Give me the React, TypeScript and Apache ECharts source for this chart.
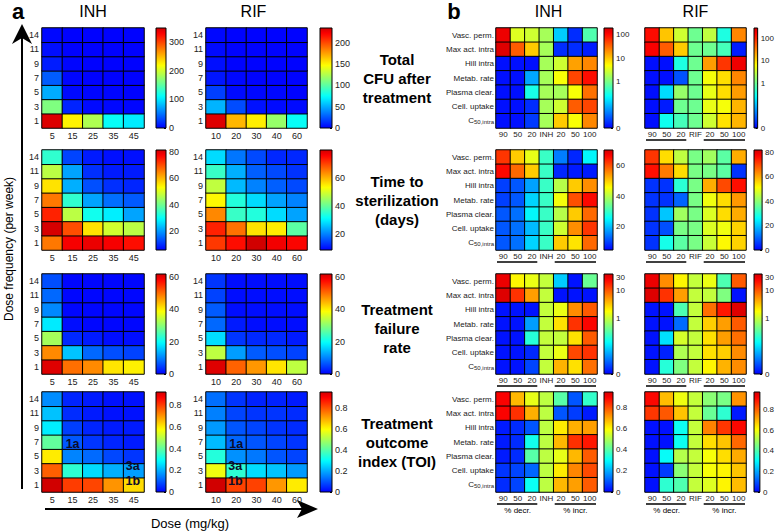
import React, { useEffect, useRef } from 'react';
import * as echarts from 'echarts';

// ---------------- data ----------------
const freqs = ['1', '3', '5', '7', '9', '11', '14'];
const inhDoses = ['5', '15', '25', '35', '45'];
const rifDoses = ['10', '20', '30', '40', '60'];
const params = ['Vasc. perm.', 'Max act. intra', 'Hill intra', 'Metab. rate', 'Plasma clear.', 'Cell. uptake', 'C50,intra'];
const inhChanges = ['90', '50', '20', 'INH', '20', '50', '100'];
const rifChanges = ['90', '50', '20', 'RIF', '20', '50', '100'];
const rowTitles = ['Total\nCFU after\ntreatment', 'Time to\nsterilization\n(days)', 'Treatment\nfailure\nrate', 'Treatment\noutcome\nindex (TOI)'];

// panel a: rows = dose frequency 1,3,5,7,9,11,14 ; columns = doses
const inhCFU = [
  [345, 225, 185, 112, 102],
  [165, 15, 4, 3, 2],
  [75, 4, 2, 2, 1],
  [40, 2, 1, 1, 1],
  [12, 2, 1, 1, 1],
  [6, 1, 1, 1, 1],
  [3, 1, 1, 1, 1],
];
const rifCFU = [
  [230, 168, 152, 117, 75],
  [52, 22, 5, 3, 3],
  [18, 3, 2, 2, 1],
  [6, 2, 1, 1, 1],
  [4, 1, 1, 1, 1],
  [3, 1, 1, 1, 1],
  [2, 1, 1, 1, 1],
];
const inhTime = [
  [66, 78, 79, 78, 76],
  [81, 70, 56, 49, 47],
  [74, 47, 31, 28, 21],
  [66, 34, 21, 16, 14],
  [56, 22, 13, 10, 9],
  [47, 21, 10, 8, 8],
  [34, 12, 8, 7, 7],
];
const rifTime = [
  [71, 75, 80, 77, 76],
  [73, 66, 56, 55, 39],
  [64, 36, 34, 28, 23],
  [54, 34, 28, 23, 20],
  [48, 25, 20, 17, 15],
  [36, 24, 17, 15, 13],
  [28, 19, 15, 12, 12],
];
const inhFail = [
  [61, 50, 48, 41, 40],
  [48, 15, 8, 6, 5],
  [32, 3, 2, 1, 1],
  [18, 1, 0.5, 0.5, 0.5],
  [10.5, 0.5, 0.5, 0.5, 0.5],
  [8, 0.5, 0.5, 0.5, 0.5],
  [6, 0.5, 0.5, 0.5, 0.5],
];
const rifFail = [
  [61, 51, 47, 41, 34],
  [34, 12, 7, 6, 5],
  [17, 4, 3, 3, 2],
  [8, 2, 1, 1, 1],
  [7, 1, 1, 1, 1],
  [5, 1, 1, 1, 1],
  [4, 1, 1, 1, 1],
];
const inhTOI = [
  [0.92, 0.8, 0.79, 0.7, 0.62],
  [0.76, 0.34, 0.25, 0.2, 0.18],
  [0.6, 0.15, 0.12, 0.08, 0.06],
  [0.4, 0.1, 0.06, 0.04, 0.03],
  [0.27, 0.07, 0.04, 0.03, 0.03],
  [0.22, 0.05, 0.03, 0.02, 0.02],
  [0.16, 0.04, 0.03, 0.02, 0.02],
];
const rifTOI = [
  [0.95, 0.82, 0.82, 0.72, 0.62],
  [0.58, 0.35, 0.26, 0.23, 0.18],
  [0.34, 0.17, 0.14, 0.1, 0.08],
  [0.22, 0.12, 0.1, 0.08, 0.06],
  [0.18, 0.1, 0.08, 0.06, 0.05],
  [0.15, 0.08, 0.06, 0.06, 0.05],
  [0.13, 0.06, 0.04, 0.04, 0.03],
];

// panel b: rows = params (top to bottom), columns = % changes
const inhCfuSens = [
  [140, 3.4, 2.8, 1.7, 0.12, 0.017, 0.6],
  [170, 37, 9.5, 1.7, 0.017, 0.017, 0.014],
  [0.012, 0.012, 0.012, 1.7, 2.8, 16, 22],
  [0.012, 0.012, 0.077, 1.7, 4.7, 49, 100],
  [0.012, 0.012, 0.3, 1.7, 1.7, 4.7, 29],
  [0.012, 0.012, 0.017, 1.7, 2.8, 37, 49],
  [0.012, 0.012, 0.02, 1.7, 9.5, 4.7, 22],
];
const rifCfuSens = [
  [140, 13, 3.4, 1, 2.8, 0.36, 29],
  [170, 49, 12, 1, 1, 0.6, 0.014],
  [0.012, 0.012, 0.36, 1, 22, 80, 190],
  [0.012, 0.012, 0.028, 1, 5.6, 9.5, 29],
  [0.012, 0.16, 1.7, 1, 4.7, 9.5, 22],
  [0.012, 0.014, 1, 1, 4.7, 5.6, 16],
  [0.012, 0.3, 0.6, 1, 3.4, 9, 16],
];
const inhTimeSens = [
  [62, 50, 44, 30, 15, 8, 25],
  [66, 58, 50, 30, 8, 7, 7],
  [10, 12, 18, 30, 40, 50, 55],
  [10, 12, 22, 30, 45, 60, 66],
  [12, 14, 25, 30, 40, 50, 58],
  [12, 14, 20, 30, 42, 55, 62],
  [12, 14, 22, 30, 50, 48, 58],
];
const rifTimeSens = [
  [72, 55, 45, 38, 42, 35, 60],
  [76, 65, 55, 38, 38, 35, 5],
  [5, 5, 30, 38, 60, 70, 76],
  [5, 5, 10, 38, 50, 55, 62],
  [5, 20, 42, 38, 48, 55, 60],
  [5, 8, 38, 38, 48, 50, 56],
  [5, 28, 35, 38, 46, 52, 56],
];
const inhFailSens = [
  [30, 2, 1.5, 1, 0.08, 0.012, 0.4],
  [35, 15, 5, 1, 0.012, 0.012, 0.012],
  [0.012, 0.012, 0.012, 1, 1.5, 6, 10],
  [0.012, 0.012, 0.05, 1, 2.5, 15, 25],
  [0.012, 0.012, 0.2, 1, 1, 2.5, 10],
  [0.012, 0.012, 0.015, 1, 1.5, 12, 15],
  [0.012, 0.012, 0.02, 1, 4, 2.5, 8],
];
const rifFailSens = [
  [30, 6, 2, 1, 1.5, 0.3, 10],
  [35, 15, 5, 1, 1, 0.5, 0.012],
  [0.012, 0.012, 0.3, 1, 8, 20, 35],
  [0.012, 0.012, 0.03, 1, 3, 5, 10],
  [0.012, 0.1, 1.2, 1, 2.5, 5, 8],
  [0.012, 0.014, 0.8, 1, 2.5, 3, 6],
  [0.012, 0.2, 0.5, 1, 2, 4, 6],
];
const inhToiSens = [
  [0.9, 0.68, 0.57, 0.52, 0.4, 0.1, 0.36],
  [0.9, 0.84, 0.69, 0.52, 0.1, 0.07, 0.03],
  [0.03, 0.05, 0.1, 0.52, 0.62, 0.69, 0.71],
  [0.03, 0.05, 0.32, 0.52, 0.68, 0.84, 0.87],
  [0.03, 0.05, 0.4, 0.52, 0.57, 0.68, 0.79],
  [0.06, 0.08, 0.12, 0.52, 0.62, 0.74, 0.81],
  [0.05, 0.08, 0.31, 0.52, 0.68, 0.71, 0.79],
];
const rifToiSens = [
  [0.91, 0.69, 0.59, 0.54, 0.47, 0.45, 0.74],
  [0.85, 0.81, 0.68, 0.54, 0.43, 0.36, 0.03],
  [0.02, 0.02, 0.32, 0.54, 0.76, 0.85, 0.91],
  [0.02, 0.02, 0.32, 0.54, 0.65, 0.68, 0.79],
  [0.02, 0.31, 0.52, 0.54, 0.6, 0.65, 0.71],
  [0.02, 0.07, 0.47, 0.54, 0.6, 0.62, 0.68],
  [0.02, 0.36, 0.4, 0.54, 0.57, 0.62, 0.69],
];

// colour-bar ranges and ticks
const aInhRanges = [[0, 350], [5.6, 81.5], [0, 62], [0, 0.92]];
const aInhTicks = [[0, 100, 200, 300], [20, 40, 60, 80], [0, 20, 40, 60], [0, 0.2, 0.4, 0.6, 0.8]];
const aRifRanges = [[0, 234], [8.6, 80], [0, 62], [0, 0.95]];
const aRifTicks = [[0, 50, 100, 150, 200], [20, 40, 60], [0, 20, 40, 60], [0, 0.2, 0.4, 0.6, 0.8]];
const bInhRanges = [[0.01, 200], [5, 70], [0.01, 40], [0, 0.95]];
const bInhTicks = [[0.01, 1, 10, 100], [20, 40, 60], [0.01, 1, 10, 30], [0, 0.2, 0.4, 0.6, 0.8]];
const bRifRanges = [[0.01, 280], [0, 82], [0.01, 40], [0, 0.97]];
const bRifTicks = [[0.01, 1, 10, 100], [0, 20, 40, 60, 80], [0.01, 1, 10, 30], [0, 0.2, 0.4, 0.6, 0.8]];
const bLogRows = [true, false, true, false];

const toiLabels = [
  { drug: 'INH', text: '1a', dose: '15', freq: '7' },
  { drug: 'INH', text: '3a', dose: '45', freq: '3' },
  { drug: 'INH', text: '1b', dose: '45', freq: '1' },
  { drug: 'RIF', text: '1a', dose: '20', freq: '7' },
  { drug: 'RIF', text: '3a', dose: '20', freq: '3' },
  { drug: 'RIF', text: '1b', dose: '20', freq: '1' },
];

// ---------------- layout / style ----------------
const FONT = '"Liberation Sans", Arial, Helvetica, sans-serif';
const ROW_TOPS = [28, 150, 274, 392];
const ROW_H = 100;
const A_INH = { left: 42, width: 102, cbLeft: 156, cbWidth: 10 };
const A_RIF = { left: 206, width: 101, cbLeft: 320, cbWidth: 12 };
const B_INH = { left: 496, width: 101, cbLeft: 604, cbWidth: 9 };
const B_RIF = { left: 645, width: 101, cbLeft: 754, cbWidth: 10 };
const LABEL_OFFSETS: Record<string, number[]> = { '1a': [0, 2], '3a': [-1, -5], '1b': [-1, -4] };

function jet(t: number) {
  const s = 0.125 + Math.max(0, Math.min(1, t)) * 0.795;
  const c = (k: number) => Math.round(255 * Math.max(0, Math.min(1, 1.5 - Math.abs(4 * s - k))));
  return `rgb(${c(3)},${c(2)},${c(1)})`;
}
const JET = Array.from({ length: 41 }, (_, i) => jet(i / 40));

function fmtNum(v: number) {
  const r = Math.round(v * 1000) / 1000;
  return String(r);
}

function buildOption() {
  const option: any = {
    animation: false,
    backgroundColor: '#fff',
    grid: [], xAxis: [], yAxis: [], series: [], visualMap: [], graphic: [],
  };

  function addPanel(spec: any) {
    const gi = option.grid.length;
    const log = !!spec.log;
    const tr = (v: number) => (log ? Math.log10(v) : v);
    const min = tr(spec.range[0]);
    const max = tr(spec.range[1]);
    option.grid.push({ left: spec.left, top: spec.top, width: spec.width, height: ROW_H });
    option.xAxis.push({
      type: 'category', gridIndex: gi, data: spec.xCats,
      axisLine: { show: false }, axisTick: { show: false }, splitLine: { show: false },
      axisLabel: { interval: 0, fontSize: spec.font, fontFamily: FONT, color: '#222', margin: spec.xMargin },
    });
    option.yAxis.push({
      type: 'category', gridIndex: gi, data: spec.yCats, inverse: !!spec.inverse,
      axisLine: { show: false }, axisTick: { show: false }, splitLine: { show: false },
      axisLabel: {
        show: spec.showY, interval: 0, fontSize: spec.font, fontFamily: FONT, color: '#222', margin: spec.yMargin,
        formatter: (v: string) => (v === 'C50,intra' ? '{c|C}{s|50,intra}' : v),
        rich: {
          c: { fontSize: 8, fontFamily: FONT, color: '#222', lineHeight: 8, verticalAlign: 'top' },
          s: { fontSize: 6, fontFamily: FONT, color: '#222', lineHeight: 6, padding: [5, 0, 0, 0], verticalAlign: 'bottom' },
        },
      },
    });
    const data: any[] = [];
    spec.values.forEach((row: number[], yi: number) => row.forEach((v: number, xi: number) => data.push([xi, yi, tr(v)])));
    const si = option.series.length;
    option.series.push({
      type: 'heatmap', xAxisIndex: gi, yAxisIndex: gi, data, silent: true,
      itemStyle: { borderColor: '#000', borderWidth: 1 }, emphasis: { disabled: true },
    });
    option.visualMap.push({ type: 'continuous', show: false, seriesIndex: si, dimension: 2, min, max, inRange: { color: JET } });

    if (spec.labels) {
      option.series.push({
        type: 'scatter', xAxisIndex: gi, yAxisIndex: gi, symbol: 'circle', symbolSize: 1,
        itemStyle: { color: 'rgba(0,0,0,0)' }, silent: true, z: 5,
        data: spec.labels.map((l: any) => ({ name: l.text, value: [l.dose, l.freq], label: { offset: LABEL_OFFSETS[l.text] } })),
        label: {
          show: true, position: 'inside', formatter: (p: any) => p.name, fontSize: 12.5, lineHeight: 9,
          fontWeight: 'bold', fontFamily: FONT, color: '#0d0d2a', opacity: 1,
        },
      });
    }

    // colour bar
    const ci = option.grid.length;
    const ticks = spec.ticks.map(tr);
    option.grid.push({ left: spec.cbLeft, top: spec.top, width: spec.cbWidth, height: ROW_H });
    option.xAxis.push({ type: 'category', gridIndex: ci, data: ['c'], show: false });
    option.yAxis.push({
      type: 'value', gridIndex: ci, min, max, position: 'right',
      axisLine: { show: false }, splitLine: { show: false },
      axisTick: { show: true, inside: true, length: 2, customValues: ticks, lineStyle: { color: '#000', width: 1 } },
      axisLabel: {
        customValues: ticks, fontSize: spec.font, fontFamily: FONT, color: '#222', margin: 3,
        formatter: (v: number) => {
          if (!log) return fmtNum(v);
          if (v <= -1.99) return '0';
          return fmtNum(Math.round(Math.pow(10, v)));
        },
      },
    });
    option.series.push({
      type: 'custom', xAxisIndex: ci, yAxisIndex: ci, silent: true, data: [[0, min]],
      renderItem: (params: any) => {
        const cs = params.coordSys;
        return {
          type: 'rect',
          shape: { x: cs.x, y: cs.y, width: cs.width, height: cs.height },
          style: {
            fill: new echarts.graphic.LinearGradient(0, 1, 0, 0, JET.map((c, i) => ({ offset: i / (JET.length - 1), color: c }))),
            stroke: '#000', lineWidth: 1,
          },
        };
      },
    });
  }

  const aSets = [[inhCFU, rifCFU], [inhTime, rifTime], [inhFail, rifFail], [inhTOI, rifTOI]];
  const bSets = [[inhCfuSens, rifCfuSens], [inhTimeSens, rifTimeSens], [inhFailSens, rifFailSens], [inhToiSens, rifToiSens]];

  for (let r = 0; r < 4; r++) {
    const top = ROW_TOPS[r];
    addPanel({ ...A_INH, top, xCats: inhDoses, yCats: freqs, values: aSets[r][0], range: aInhRanges[r], ticks: aInhTicks[r], showY: true, font: 9, xMargin: 3, yMargin: 3,
      labels: r === 3 ? toiLabels.filter((l) => l.drug === 'INH') : null });
    addPanel({ ...A_RIF, top, xCats: rifDoses, yCats: freqs, values: aSets[r][1], range: aRifRanges[r], ticks: aRifTicks[r], showY: true, font: 9, xMargin: 3, yMargin: 3,
      labels: r === 3 ? toiLabels.filter((l) => l.drug === 'RIF') : null });
    addPanel({ ...B_INH, top, xCats: inhChanges, yCats: params, inverse: true, values: bSets[r][0], range: bInhRanges[r], ticks: bInhTicks[r], log: bLogRows[r], showY: true, font: 8, xMargin: 2, yMargin: 2 });
    addPanel({ ...B_RIF, top, xCats: rifChanges, yCats: params, inverse: true, values: bSets[r][1], range: bRifRanges[r], ticks: bRifTicks[r], log: bLogRows[r], showY: false, font: 8, xMargin: 2, yMargin: 2 });
  }

  const g: any[] = option.graphic;
  const txt = (x: number, y: number, text: string, font: string, align = 'center', extra: any = {}) =>
    g.push({ type: 'text', x, y, ...extra, style: { text, font, fill: '#000', textAlign: align, textVerticalAlign: 'middle', align, verticalAlign: 'middle', lineHeight: extra.lh || undefined } });

  txt(18, 11, 'a', `bold 22px ${FONT}`, 'center', { lh: 14 });
  txt(454, 11, 'b', `bold 22px ${FONT}`, 'center', { lh: 14 });
  txt(A_INH.left + A_INH.width / 2, 11, 'INH', `16px ${FONT}`);
  txt(A_RIF.left + A_RIF.width / 2 - 3, 11, 'RIF', `16px ${FONT}`);
  txt(B_INH.left + B_INH.width / 2 + 2, 11, 'INH', `16px ${FONT}`);
  txt(B_RIF.left + B_RIF.width / 2, 11, 'RIF', `16px ${FONT}`);
  rowTitles.forEach((t, r) => {
    g.push({ type: 'text', x: 397, y: ROW_TOPS[r] + ROW_H / 2 + (r === 2 ? 4 : 0),
      style: { text: t, font: `bold 15px ${FONT}`, lineHeight: 19, fill: '#000', textAlign: 'center', textVerticalAlign: 'middle', align: 'center', verticalAlign: 'middle' } });
  });
  txt(190, 523, 'Dose (mg/kg)', `13px ${FONT}`);
  txt(9, 321, 'Dose frequency (per week)', `12px ${FONT}`, 'left', { rotation: Math.PI / 2 });

  // axis arrows
  g.push({ type: 'line', shape: { x1: 22, y1: 38, x2: 22, y2: 489 }, style: { stroke: '#000', lineWidth: 2 } });
  g.push({ type: 'polygon', shape: { points: [[22, 24], [32, 44], [22, 38], [12, 44]] }, style: { fill: '#000' } });
  g.push({ type: 'line', shape: { x1: 45, y1: 509, x2: 304, y2: 509 }, style: { stroke: '#000', lineWidth: 2 } });
  g.push({ type: 'polygon', shape: { points: [[318, 509], [297, 500], [302, 509], [297, 518]] }, style: { fill: '#000' } });

  // panel b underlines and % labels
  [B_INH, B_RIF].forEach((p, pi) => {
    const cw = p.width / 7;
    for (let r = 0; r < 4; r++) {
      if (pi === 0 && r === 0) continue;
      const y = ROW_TOPS[r] + ROW_H + 12;
      g.push({ type: 'line', shape: { x1: p.left + 1, y1: y, x2: p.left + 3 * cw - 2, y2: y }, style: { stroke: '#000', lineWidth: 1.5 } });
      g.push({ type: 'line', shape: { x1: p.left + 4 * cw + 1, y1: y, x2: p.left + p.width - 1, y2: y }, style: { stroke: '#000', lineWidth: 1.5 } });
      if (r === 3) {
        txt(p.left + 1.5 * cw, y + 6, '% decr.', `8px ${FONT}`);
        txt(p.left + 5.5 * cw, y + 6, '% incr.', `8px ${FONT}`);
      }
    }
  });

  return option;
}

export default function App() {
  const ref = useRef<HTMLDivElement>(null);
  useEffect(() => {
    const chart = echarts.init(ref.current as HTMLDivElement, null, { renderer: 'svg' });
    chart.setOption(buildOption());
    return () => chart.dispose();
  }, []);
  return <div ref={ref} style={{ position: 'fixed', left: 0, top: 0, width: 777, height: 531, background: '#fff' }} />;
}
